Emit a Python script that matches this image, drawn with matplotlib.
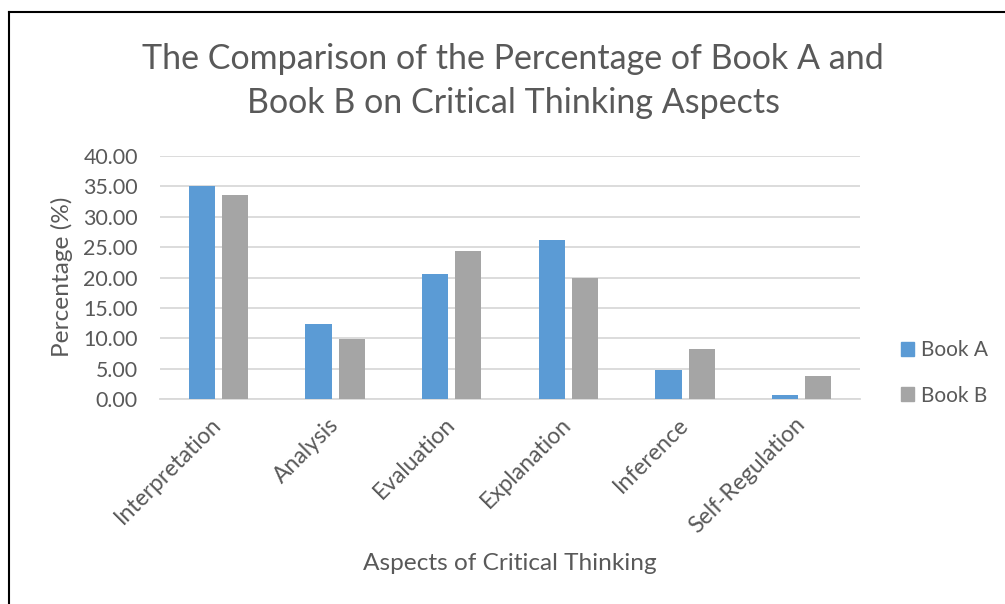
import numpy as np
import matplotlib.pyplot as plt
from matplotlib.lines import Line2D
from matplotlib.patches import Patch

# values
aspects = ["Interpretation", "Analysis", "Evaluation", "Explanation", "Inference", "Self-Regulation"]
book_a = [35.1, 12.3, 20.5, 26.2, 4.8, 0.6]
book_b = [33.5, 9.8, 24.3, 19.9, 8.2, 3.8]
y_ticks = [0, 5, 10, 15, 20, 25, 30, 35, 40]

text_col = "#595959"
blue = "#5B9BD5"
grey = "#A5A5A5"

plt.rcParams["font.family"] = ["Lato", "DejaVu Sans"]

W, H = 1005, 604
fig = plt.figure(figsize=(W / 100, H / 100), dpi=100)


def box(l, t, r, b):
    return [l / W, 1 - b / H, (r - l) / W, (b - t) / H]


# outer frame (only top and left visible in the reference)
fig.add_artist(Line2D([9 / W, 9 / W], [0, 1 - 12 / H], transform=fig.transFigure, color="black", lw=1.5))
fig.add_artist(Line2D([9 / W, 1], [1 - 12 / H, 1 - 12 / H], transform=fig.transFigure, color="black", lw=1.5))

ax = fig.add_axes(box(160, 156, 860, 399))
x = np.arange(len(aspects))
w = 0.225
off = 0.1425
ax.bar(x - off, book_a, w, color=blue, label="Book A", zorder=3)
ax.bar(x + off, book_b, w, color=grey, label="Book B", zorder=3)

ax.set_xlim(-0.5, len(aspects) - 0.5)
ax.set_ylim(0, 40)
ax.set_yticks(y_ticks)
ax.set_yticklabels([f"{v:.2f}" for v in y_ticks])
ax.yaxis.grid(True, color="#D9D9D9", lw=1.3, zorder=0)
for s in ["top", "right", "left"]:
    ax.spines[s].set_visible(False)
ax.spines["bottom"].set_color("#D9D9D9")
ax.spines["bottom"].set_linewidth(1.3)
ax.tick_params(axis="y", length=0, pad=16, labelsize=15.4, labelcolor=text_col)
ax.tick_params(axis="x", length=0, pad=16, labelsize=16.5, labelcolor=text_col)
ax.set_xticks(x)
ax.set_xticklabels(aspects, rotation=45, ha="right", va="center", rotation_mode="anchor")

fig.text(62 / W, 1 - 277 / H, "Percentage (%)", rotation=90, ha="center", va="center",
         fontsize=17.6, color=text_col)
fig.text(510 / W, 1 - 563 / H, "Aspects of Critical Thinking", ha="center", va="center",
         fontsize=17.6, color=text_col)
fig.text(513 / W, 1 - 81 / H, "The Comparison of the Percentage of Book A and\nBook B on Critical Thinking Aspects",
         ha="center", va="center", fontsize=24.5, color=text_col, linespacing=1.47)

handles = [Patch(color=blue, label="Book A"), Patch(color=grey, label="Book B")]
fig.legend(handles=handles, loc="center left", bbox_to_anchor=(882 / W, 1 - 373 / H), frameon=False,
           fontsize=15, labelcolor=text_col, handlelength=0.65, handleheight=0.65, handletextpad=0.3,
           labelspacing=1.2)

fig.savefig("out.png", dpi=100)
